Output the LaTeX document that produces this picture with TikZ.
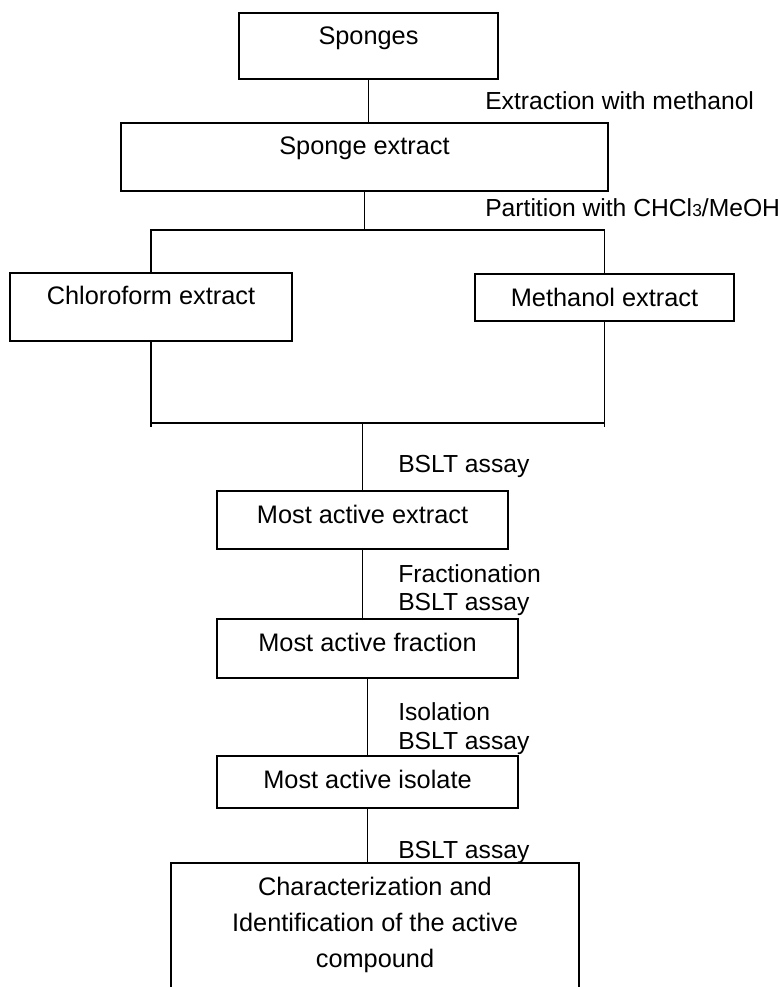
\documentclass[tikz,border=0pt]{standalone}
\usepackage{fontspec}
\setmainfont{Liberation Sans}
\usetikzlibrary{positioning}
\tikzset{
    stage/.style={draw, rectangle, line width=1.4pt, inner xsep=0pt, inner ysep=0pt, outer sep=0pt, text height=24pt, align=center, font=\fontsize{19}{27}\selectfont},
    note/.style={anchor=base west, inner sep=0pt, font=\fontsize{18.5}{21}\selectfont},
    link/.style={line width=1.4pt}
}
\begin{document}
\begin{tikzpicture}[x=0.75pt, y=-0.75pt]
\useasboundingbox (0,0) rectangle (780,987);
\node[stage, minimum width=194.25pt, text depth=25.5pt, anchor=north] (sponges) at (368.5,13) {Sponges};
\node[stage, minimum width=365.25pt, text depth=27pt, below=33pt of sponges, xshift=-3pt] (sext) {Sponge extract};
\node[stage, minimum width=211.5pt, text depth=27pt, below=61.5pt of sext, xshift=-160.125pt] (chloro) {Chloroform extract};
\node[stage, minimum width=194.25pt, text depth=11.25pt, below=62.25pt of sext, xshift=180pt] (meth) {Methanol extract};
\node[stage, minimum width=218.25pt, text depth=19.5pt, below=225pt of sext, xshift=-1.5pt] (mostext) {Most active extract};
\node[stage, minimum width=225.75pt, text depth=20.25pt, below=52.5pt of mostext, xshift=3.75pt] (mostfrac) {Most active fraction};
\node[stage, minimum width=225.75pt, text depth=15pt, below=58.5pt of mostfrac] (mostiso) {Most active isolate};
\node[stage, minimum width=306pt, text height=78pt, text depth=21pt, below=41.25pt of mostiso, xshift=5.625pt] (charact) {Characterization and\\Identification of the active\\compound};
% step labels
\node[note] (lblextract) at (485,110) {Extraction with methanol};
\node[note] (lblpartition) at (485,217) {Partition with CHCl{\fontsize{13}{13}\selectfont 3}/MeOH};
\node[note] (lblassay1) at (398,472) {BSLT assay};
\node[note] (lblfraction) at (398,582) {Fractionation};
\node[note] (lblassay2) at (398,610) {BSLT assay};
\node[note] (lblisolation) at (398,720) {Isolation};
\node[note] (lblassay3) at (398,749) {BSLT assay};
\node[note] (lblassay4) at (398,858) {BSLT assay};
% connectors
\coordinate (fork) at ([yshift=-29.25pt]sext.south);
\coordinate (merge) at ([yshift=51pt]mostext.north);
\draw[link] (sponges.south) -- (sponges.south |- sext.north);
\draw[link] (sext.south) -- (fork);
\draw[link] (chloro.north) |- (fork) -| (meth.north);
\draw[link] (chloro.south) -- ([yshift=-3pt]chloro.south |- merge);
\draw[link] (meth.south) -- ([yshift=-3pt]meth.south |- merge);
\draw[link] (chloro.south |- merge) -- (meth.south |- merge);
\draw[link] (merge) -- (mostext.north);
\draw[link] (mostext.south) -- (mostext.south |- mostfrac.north);
\draw[link] (mostfrac.south) -- (mostfrac.south |- mostiso.north);
\draw[link] (mostiso.south) -- (mostiso.south |- charact.north);
\end{tikzpicture}
\end{document}
